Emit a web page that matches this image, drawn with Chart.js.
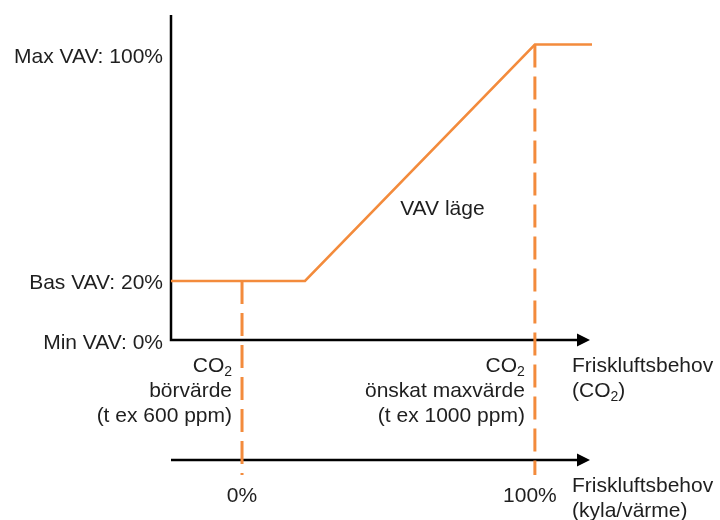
<!DOCTYPE html>
<html>
<head>
<meta charset="utf-8">
<style>
  html, body { margin: 0; padding: 0; background: #fff; }
  #wrap { width: 720px; height: 520px; }
</style>
<script src="https://cdn.jsdelivr.net/npm/chart.js@4/dist/chart.umd.min.js"></script>
</head>
<body>
<div id="wrap"><canvas id="vavChart" width="720" height="520"></canvas></div>
<script>
// --- DATA ---
// x = CO2 in ppm, y = VAV airflow in %
const curvePpm = [503, 686, 1000, 1078];
const curveVav = [20, 20, 100, 100];
const setpointPpm = 600;
const maxPpm = 1000;
const dashEndVav = -45.7;          // dashed guides run down past the lower axis
const xRange = [503, 1078];
const yRange = [0, 110];

const vavLevels = [100, 20, 0];
const vavLabels = ['Max VAV: 100%', 'Bas VAV: 20%', 'Min VAV: 0%'];
const ppmMarks = [600, 1000];
const ppmLabels = [
    ['CO_2', 'börvärde', '(t ex 600 ppm)'],
    ['CO_2', 'önskat maxvärde', '(t ex 1000 ppm)']
];
const demandLabels = ['0%', '100%'];
const co2AxisTitle = ['Friskluftsbehov', '(CO_2)'];
const demandAxisTitle = ['Friskluftsbehov', '(kyla/värme)'];
const modeLabel = 'VAV läge';
const modeLabelAt = [816, 45];

// --- STYLE ---
const ORANGE = '#F38B3C';
const INK = '#1f1f1f';
const FONT = '21px "Liberation Sans", Arial, sans-serif';
const SUB_FONT = '14px "Liberation Sans", Arial, sans-serif';
const AXIS_GAP = 120;   // px between CO2 axis and kyla/värme axis
const LINE_H = 25;

// 'CO_2' -> [['CO', false], ['2', true]]
function segments(str) {
    const out = [];
    str.split(/_(\d)/).forEach((s, i) => { if (s) out.push([s, i % 2 === 1]); });
    return out;
}

// draws text whose visual centre line is at cy
function drawRich(ctx, str, x, cy, align) {
    const parts = segments(str);
    let w = 0;
    parts.forEach(([s, sub]) => { ctx.font = sub ? SUB_FONT : FONT; w += ctx.measureText(s).width; });
    let cx = align === 'right' ? x - w : align === 'center' ? x - w / 2 : x;
    const base = cy + 7.5;
    ctx.textAlign = 'left';
    ctx.textBaseline = 'alphabetic';
    parts.forEach(([s, sub]) => {
        ctx.font = sub ? SUB_FONT : FONT;
        ctx.fillText(s, cx, sub ? base + 4 : base);
        cx += ctx.measureText(s).width;
    });
}

const diagramPlugin = {
    id: 'diagram',
    beforeDatasetsDraw(chart) {
        const { ctx, chartArea, scales: { x, y } } = chart;
        const x0 = chartArea.left;
        const y0 = y.getPixelForValue(0);
        const y2 = y0 + AXIS_GAP;
        const tip = chartArea.right - 2;
        ctx.save();
        ctx.strokeStyle = '#000';
        ctx.fillStyle = '#000';
        ctx.lineWidth = 2.5;
        ctx.beginPath();
        ctx.moveTo(x0, chartArea.top);
        ctx.lineTo(x0, y0 + 1.25);
        ctx.moveTo(x0 - 1.25, y0);
        ctx.lineTo(tip - 10, y0);
        ctx.moveTo(x0, y2);
        ctx.lineTo(tip - 10, y2);
        ctx.stroke();
        [y0, y2].forEach(yy => {
            ctx.beginPath();
            ctx.moveTo(tip, yy);
            ctx.lineTo(tip - 13, yy - 6.5);
            ctx.lineTo(tip - 13, yy + 6.5);
            ctx.closePath();
            ctx.fill();
        });
        ctx.restore();
    },
    afterDatasetsDraw(chart) {
        const { ctx, chartArea, scales: { x, y } } = chart;
        const x0 = chartArea.left;
        const y0 = y.getPixelForValue(0);
        const y2 = y0 + AXIS_GAP;
        const titleX = chartArea.right - 20;
        ctx.save();
        ctx.fillStyle = INK;

        vavLevels.forEach((v, i) => {
            const shift = v === 100 ? 11 : 1;  // top label sits a bit under its level
            drawRich(ctx, vavLabels[i], x0 - 8, y.getPixelForValue(v) + shift, 'right');
        });

        ppmMarks.forEach((p, i) => {
            const px = x.getPixelForValue(p);
            ppmLabels[i].forEach((line, j) => drawRich(ctx, line, px - 10, y0 + 24 + j * LINE_H, 'right'));
            // the wider "100%" is nudged left of its guide, as in the original
            drawRich(ctx, demandLabels[i], px - (i ? 5 : 0), y2 + 34, 'center');
        });

        co2AxisTitle.forEach((line, j) => drawRich(ctx, line, titleX, y0 + 24 + j * LINE_H, 'left'));
        demandAxisTitle.forEach((line, j) => drawRich(ctx, line, titleX, y2 + 24 + j * LINE_H, 'left'));

        drawRich(ctx, modeLabel, x.getPixelForValue(modeLabelAt[0]), y.getPixelForValue(modeLabelAt[1]), 'left');
        ctx.restore();
    }
};

function initChart() {
    const pts = (xs, ys) => xs.map((v, i) => ({ x: v, y: ys[i] }));
    const guide = (p, top) => ({
        data: pts([p, p], [top, dashEndVav]),
        borderColor: ORANGE,
        borderWidth: 3,
        borderDash: [23, 9],
        borderCapStyle: 'butt',
        pointRadius: 0,
        clip: false
    });

    new Chart(document.getElementById('vavChart'), {
        type: 'line',
        data: {
            datasets: [
                {
                    data: pts(curvePpm, curveVav),
                    borderColor: ORANGE,
                    borderWidth: 2.5,
                    pointRadius: 0,
                    tension: 0,
                    clip: false
                },
                guide(setpointPpm, curveVav[0]),
                guide(maxPpm, curveVav[2])
            ]
        },
        options: {
            responsive: false,
            animation: false,
            devicePixelRatio: 1,
            layout: { padding: { left: 171, right: 128, top: 15, bottom: 180 } },
            plugins: { legend: { display: false }, tooltip: { enabled: false } },
            scales: {
                x: { type: 'linear', min: xRange[0], max: xRange[1], display: false },
                y: { type: 'linear', min: yRange[0], max: yRange[1], display: false }
            }
        },
        plugins: [diagramPlugin]
    });
}

window.onload = initChart;
</script>
</body>
</html>
